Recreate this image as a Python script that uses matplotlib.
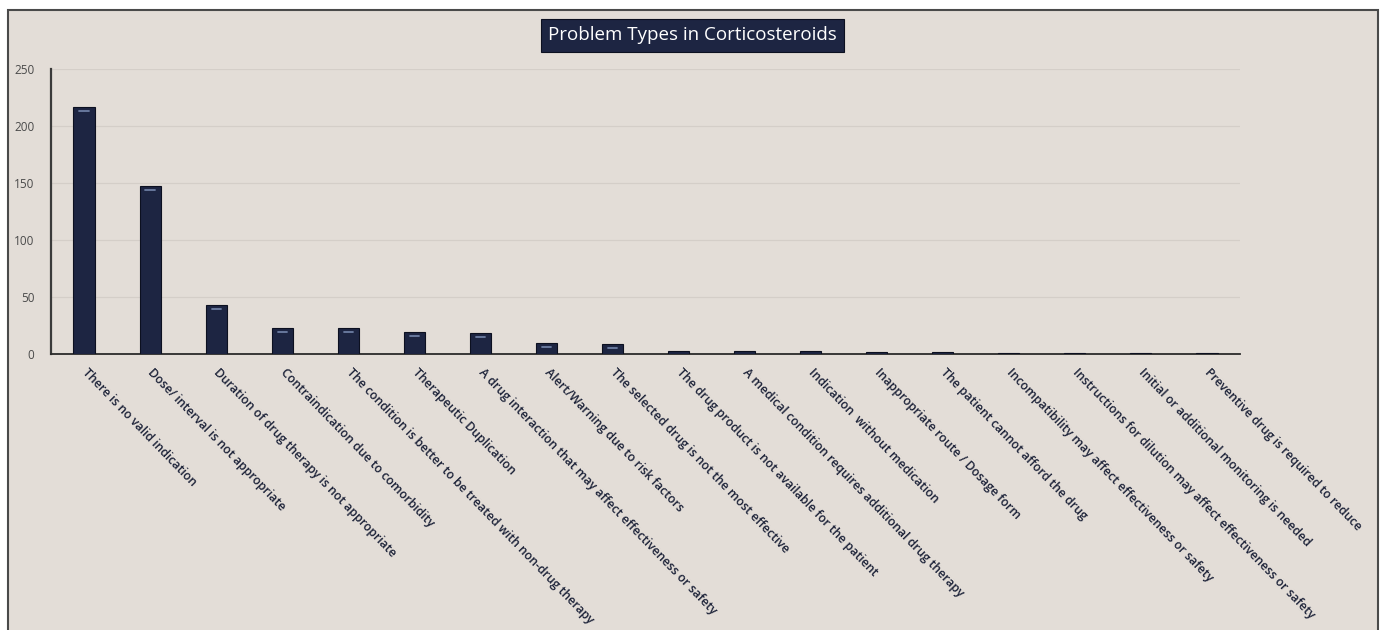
import numpy as np
import matplotlib
matplotlib.use("Agg")
import matplotlib.pyplot as plt
import matplotlib.transforms as mtransforms
from matplotlib.patches import Rectangle

# problem categories and counts
problems = [
    "There is no valid indication",
    "Dose/ interval is not appropriate",
    "Duration of drug therapy is not appropriate",
    "Contraindication due to comorbidity",
    "The condition is better to be treated with non-drug therapy",
    "Therapeutic Duplication",
    "A drug interaction that may affect effectiveness or safety",
    "Alert/Warning due to risk factors",
    "The selected drug is not the most effective",
    "The drug product is not available for the patient",
    "A medical condition requires additional drug therapy",
    "Indication  without medication",
    "Inappropriate route / Dosage form",
    "The patient cannot afford the drug",
    "Incompatibility may affect effectiveness or safety",
    "Instructions for dilution may affect effectiveness or safety",
    "Initial or additional monitoring is needed",
    "Preventive drug is required to reduce",
]
counts = [217, 147, 43, 23, 23, 19, 18, 10, 9, 3, 3, 3, 2, 2, 1, 1, 1, 1]
y_ticks = [0, 50, 100, 150, 200, 250]

bg = "#e3ddd7"
navy = "#1d2542"

plt.rcParams["font.family"] = ["Open Sans", "DejaVu Sans"]

fig = plt.figure(figsize=(13.86, 6.30), dpi=100, facecolor="white")

# panel frame
W, H = 1386, 630
frame = Rectangle((8 / W, -0.02), (1378 - 8) / W, 1 - 10 / H + 0.02,
                  transform=fig.transFigure, facecolor=bg, edgecolor="#4a4a4a",
                  linewidth=1.5, zorder=-10)
fig.patches.append(frame)

ax = fig.add_axes([51 / W, 1 - 354 / H, (1240 - 51) / W, (354 - 69) / H])
ax.set_facecolor("none")

x = np.arange(len(counts))
ax.bar(x, counts, width=0.32, color=navy, edgecolor="#0c1020", linewidth=0.8, zorder=3)

# small light reflection near the top of taller bars
for xi, v in zip(x, counts):
    if v >= 8:
        off = mtransforms.offset_copy(ax.transData, fig=fig, x=0, y=-4, units="dots")
        ax.plot([xi - 0.07, xi + 0.07], [v, v], color="#6d7ea3", lw=1.3,
                transform=off, zorder=4, solid_capstyle="round")

ax.set_xlim(-0.5, len(counts) - 0.5)
ax.set_ylim(0, 250)
ax.set_yticks(y_ticks)
ax.set_yticklabels([str(t) for t in y_ticks], fontsize=8.5, color="#4a4a4a")
ax.tick_params(axis="y", length=0, pad=12)
ax.yaxis.grid(True, color="#d4cec8", linewidth=0.9, zorder=0)
ax.set_axisbelow(True)

ax.set_xticks(x)
ax.set_xticklabels(problems, rotation=-46, ha="left", va="center",
                   rotation_mode="anchor", fontsize=8.8, color="#1c2238",
                   fontweight="semibold")
ax.tick_params(axis="x", length=0, pad=12)

for s in ["top", "right"]:
    ax.spines[s].set_visible(False)
ax.spines["left"].set_color("#3a3a3a")
ax.spines["left"].set_linewidth(1.6)
ax.spines["bottom"].set_color("#2a2a2a")
ax.spines["bottom"].set_linewidth(1.3)

# title box
title_cx = (539 + 845) / 2 / W
title_cy = 1 - (20 + 51) / 2 / H
fig.text(title_cx, title_cy, "Problem Types in Corticosteroids", ha="center", va="center",
         fontsize=13.5, color="white",
         bbox=dict(boxstyle="square,pad=0.38", facecolor=navy, edgecolor="#0c1020",
                   linewidth=0.8))

fig.savefig("out.png", dpi=100, facecolor="white")
